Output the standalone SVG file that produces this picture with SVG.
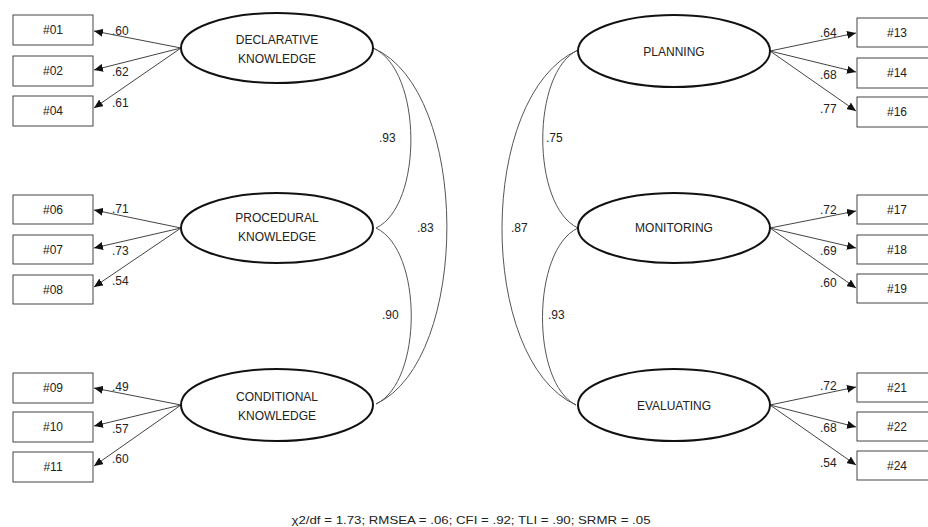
<svg xmlns="http://www.w3.org/2000/svg" width="928" height="527" viewBox="0 0 928 527">
<style>
text{font-family:"Liberation Sans",Arial,sans-serif;font-size:12px;fill:#222}
.c{text-anchor:middle}
.box{fill:#fff;stroke:#444;stroke-width:1}
.lat{fill:#fff;stroke:#111;stroke-width:2}
.ar{stroke:#444;stroke-width:1;fill:none;marker-end:url(#ah)}
.cv{stroke:#555;stroke-width:1;fill:none}
</style>
<defs>
<marker id="ah" markerWidth="10" markerHeight="8" refX="9" refY="4" orient="auto" markerUnits="userSpaceOnUse">
<path d="M0,0 L9,4 L0,8 Z" fill="#111"/>
</marker>
</defs>
<rect width="928" height="527" fill="#fff"/>
<g id="connectors">
<path class="ar" d="M181,48 L94,31"/>
<path class="ar" d="M181,48 L94,70"/>
<path class="ar" d="M181,48 L94,108"/>
<path class="ar" d="M181,228 L94,210"/>
<path class="ar" d="M181,228 L94,248"/>
<path class="ar" d="M181,228 L94,287"/>
<path class="ar" d="M181,405 L94,388"/>
<path class="ar" d="M181,405 L94,426"/>
<path class="ar" d="M181,405 L94,466"/>
<path class="ar" d="M770,51 L856,33"/>
<path class="ar" d="M770,51 L856,72"/>
<path class="ar" d="M770,51 L856,111"/>
<path class="ar" d="M770,228 L856,211"/>
<path class="ar" d="M770,228 L856,248"/>
<path class="ar" d="M770,228 L856,288"/>
<path class="ar" d="M770,405 L856,387"/>
<path class="ar" d="M770,405 L856,427"/>
<path class="ar" d="M770,405 L856,465"/>
<path class="cv" d="M373,48 C423,70 423,206 376,228"/>
<path class="cv" d="M373,48 C471,90 471,360 376,404"/>
<path class="cv" d="M376,228 C423,250 423,382 376,404"/>
<path class="cv" d="M578,50 C531,72 531,206 578,228"/>
<path class="cv" d="M578,50 C477,95 477,360 576,405"/>
<path class="cv" d="M578,228 C531,250 531,383 576,405"/>
<text x="112" y="35">.60</text>
<text x="112" y="76">.62</text>
<text x="112" y="107">.61</text>
<text x="112" y="213">.71</text>
<text x="112" y="255">.73</text>
<text x="112" y="285">.54</text>
<text x="112" y="391">.49</text>
<text x="112" y="433">.57</text>
<text x="112" y="463">.60</text>
<text x="820" y="37">.64</text>
<text x="820" y="79">.68</text>
<text x="820" y="113">.77</text>
<text x="820" y="214">.72</text>
<text x="820" y="255">.69</text>
<text x="820" y="287">.60</text>
<text x="820" y="390">.72</text>
<text x="820" y="432">.68</text>
<text x="820" y="467">.54</text>
<text x="379" y="142">.93</text>
<text x="417" y="232">.83</text>
<text x="382" y="319">.90</text>
<text x="546" y="142">.75</text>
<text x="511" y="232">.87</text>
<text x="548" y="319">.93</text>
</g>
<g id="declarative"><ellipse class="lat" cx="277" cy="48" rx="96" ry="35"/><text class="c" x="277" y="44">DECLARATIVE</text><text class="c" x="277" y="63">KNOWLEDGE</text></g>
<g id="procedural"><ellipse class="lat" cx="277" cy="228" rx="96" ry="35"/><text class="c" x="277" y="222">PROCEDURAL</text><text class="c" x="277" y="241">KNOWLEDGE</text></g>
<g id="conditional"><ellipse class="lat" cx="277" cy="405" rx="96" ry="36"/><text class="c" x="277" y="401">CONDITIONAL</text><text class="c" x="277" y="420">KNOWLEDGE</text></g>
<g id="planning"><ellipse class="lat" cx="674" cy="51" rx="96" ry="36"/><text class="c" x="674" y="56">PLANNING</text></g>
<g id="monitoring"><ellipse class="lat" cx="674" cy="228" rx="96" ry="35"/><text class="c" x="674" y="232">MONITORING</text></g>
<g id="evaluating"><ellipse class="lat" cx="674" cy="405" rx="96" ry="36"/><text class="c" x="674" y="410">EVALUATING</text></g>
<g id="i01"><rect class="box" x="13" y="15" width="80" height="30"/><text class="c" x="53" y="34">#01</text></g>
<g id="i02"><rect class="box" x="13" y="56" width="80" height="30"/><text class="c" x="53" y="75">#02</text></g>
<g id="i04"><rect class="box" x="13" y="96" width="80" height="30"/><text class="c" x="53" y="115">#04</text></g>
<g id="i06"><rect class="box" x="13" y="195" width="80" height="29"/><text class="c" x="53" y="214">#06</text></g>
<g id="i07"><rect class="box" x="13" y="235" width="80" height="29"/><text class="c" x="53" y="254">#07</text></g>
<g id="i08"><rect class="box" x="13" y="275" width="80" height="29"/><text class="c" x="53" y="294">#08</text></g>
<g id="i09"><rect class="box" x="13" y="373" width="80" height="30"/><text class="c" x="53" y="392">#09</text></g>
<g id="i10"><rect class="box" x="13" y="412" width="80" height="30"/><text class="c" x="53" y="431">#10</text></g>
<g id="i11"><rect class="box" x="13" y="452" width="80" height="30"/><text class="c" x="53" y="471">#11</text></g>
<g id="i13"><rect class="box" x="857" y="18" width="80" height="29"/><text class="c" x="897" y="37">#13</text></g>
<g id="i14"><rect class="box" x="857" y="58" width="80" height="30"/><text class="c" x="897" y="77">#14</text></g>
<g id="i16"><rect class="box" x="857" y="97" width="80" height="30"/><text class="c" x="897" y="116">#16</text></g>
<g id="i17"><rect class="box" x="857" y="195" width="80" height="29"/><text class="c" x="897" y="214">#17</text></g>
<g id="i18"><rect class="box" x="857" y="235" width="80" height="29"/><text class="c" x="897" y="254">#18</text></g>
<g id="i19"><rect class="box" x="857" y="274" width="80" height="29"/><text class="c" x="897" y="293">#19</text></g>
<g id="i21"><rect class="box" x="857" y="373" width="80" height="29"/><text class="c" x="897" y="392">#21</text></g>
<g id="i22"><rect class="box" x="857" y="412" width="80" height="29"/><text class="c" x="897" y="431">#22</text></g>
<g id="i24"><rect class="box" x="857" y="451" width="80" height="29"/><text class="c" x="897" y="470">#24</text></g>
<text class="c" x="471" y="524" style="font-size:11px" textLength="359" lengthAdjust="spacingAndGlyphs">χ2/df = 1.73; RMSEA = .06; CFI = .92; TLI = .90; SRMR = .05</text>
</svg>
